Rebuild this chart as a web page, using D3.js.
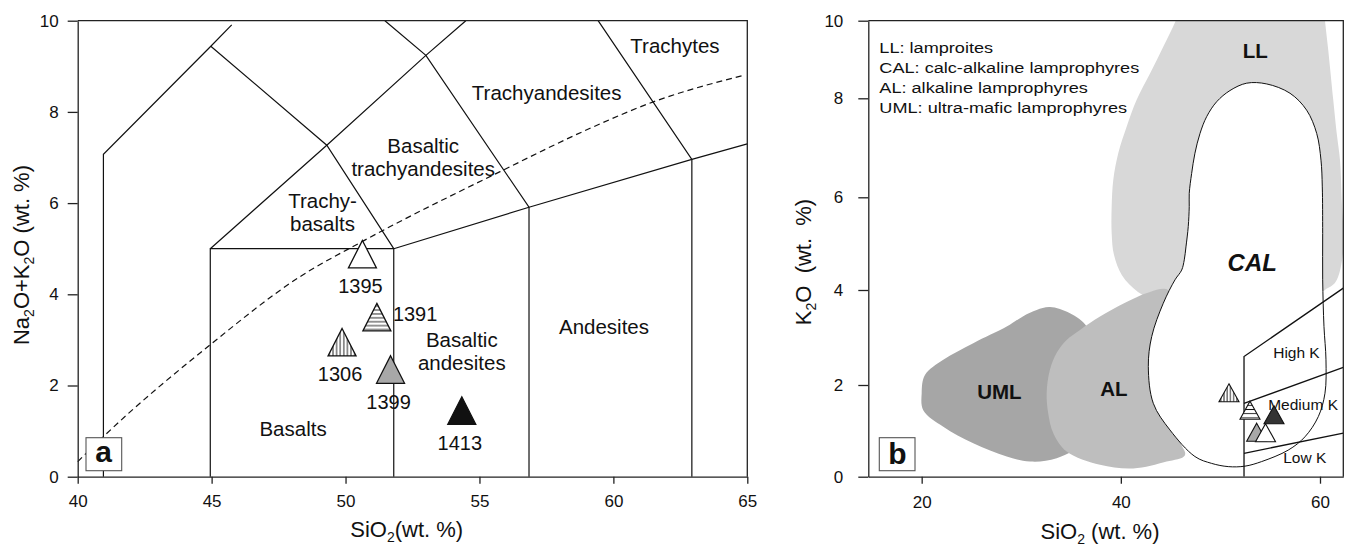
<!DOCTYPE html>
<html>
<head>
<meta charset="utf-8">
<script src="https://cdn.jsdelivr.net/npm/d3@7"></script>
<style>
  body { margin: 0; background: #fff; }
  svg { display: block; font-family: "Liberation Sans", Arial, Helvetica, sans-serif; }
  text { fill: #111; }
</style>
</head>
<body>
<svg id="fig" width="1347" height="547"></svg>
<script>
// ---------- Panel a: total alkali vs silica ----------
const tasSampleIds = ["1395", "1391", "1306", "1399", "1413"];
const tasSiO2      = [50.63, 51.17, 49.87, 51.68, 54.34];
const tasAlkali    = [4.88, 3.50, 2.95, 2.35, 1.45];
const tasLabelSide = ["below", "right", "below", "below", "below"];
const sampleFill   = { "1395": "open", "1391": "hlines", "1306": "vlines", "1399": "gray", "1413": "black" };

// field boundaries, [SiO2, Na2O+K2O]
const tasBoundaries = [
  [[40.96, 0], [40.96, 7.07], [44.97, 9.44], [45.75, 9.91]],
  [[44.95, 0], [44.95, 5.0], [51.8, 5.0], [51.8, 0]],
  [[44.97, 9.44], [49.3, 7.27], [51.8, 5.0]],
  [[44.95, 5.0], [49.3, 7.27], [53.0, 9.24], [54.49, 10]],
  [[51.47, 10], [53.0, 9.24], [56.85, 5.91], [56.85, 0]],
  [[51.8, 5.0], [56.85, 5.91], [62.93, 6.96], [65, 7.3]],
  [[62.93, 0], [62.93, 6.96], [59.43, 10]]
];
// alkaline / subalkaline divide
const alkalineDivide = [[40.0, 0.33], [40.96, 0.88], [44.94, 2.89], [48.31, 4.39], [50.6, 5.15],
                        [55.77, 6.69], [59.13, 7.64], [61.49, 8.22], [64.92, 8.81]];
const tasFieldNames = [
  { lines: ["Trachytes"], x: 62.3, y: 9.3 },
  { lines: ["Trachyandesites"], x: 57.51, y: 8.26 },
  { lines: ["Basaltic", "trachyandesites"], x: 52.9, y: 7.09 },
  { lines: ["Trachy-", "basalts"], x: 49.14, y: 5.89 },
  { lines: ["Basaltic", "andesites"], x: 54.34, y: 2.84 },
  { lines: ["Andesites"], x: 59.65, y: 3.13 },
  { lines: ["Basalts"], x: 48.04, y: 0.89 }
];
const tasXTicks = [40, 45, 50, 55, 60, 65];
const tasYTicks = [0, 2, 4, 6, 8, 10];

// ---------- Panel b: K2O vs SiO2 (lamprophyre fields) ----------
const lampSampleIds = ["1306", "1391", "1399", "1395", "1413"];
const lampSiO2      = [50.86, 52.97, 53.64, 54.53, 55.38];
const lampK2O       = [1.83, 1.45, 0.97, 0.96, 1.35];

const fieldUML = [[20.0, 1.82], [20.33, 2.21], [22.17, 2.53], [25.18, 2.88], [28.54, 3.23], [30.2, 3.45],
  [31.55, 3.58], [32.88, 3.64], [34.89, 3.51], [36.57, 3.23], [37.4, 2.53], [37.1, 1.24], [36.57, 0.8],
  [33.56, 0.4], [30.88, 0.33], [28.54, 0.44], [25.18, 0.73], [22.17, 1.09], [20.16, 1.45]];
const fieldAL = [[32.55, 1.82], [32.88, 2.32], [33.59, 2.69], [34.56, 2.95], [35.9, 3.16], [37.91, 3.44],
  [40.42, 3.73], [42.93, 3.96], [44.73, 4.0], [45.94, 3.37], [45.94, 0.8], [46.44, 0.47], [44.6, 0.33],
  [41.25, 0.18], [37.91, 0.26], [34.56, 0.55], [33.22, 0.95], [32.71, 1.38]];
const fieldLL = [[46.2, 10.5], [45.51, 10.0], [44.26, 9.33], [42.93, 8.64], [41.59, 7.97], [40.59, 7.43],
  [39.74, 6.89], [39.24, 6.35], [39.08, 5.8], [39.08, 5.22], [39.31, 4.76], [40.11, 4.32], [41.72, 3.96],
  [43.73, 3.75], [45.44, 3.68], [58.0, 3.68], [60.49, 4.0], [61.56, 4.17], [62.34, 4.86], [62.18, 5.93],
  [62.01, 6.75], [61.68, 7.29], [61.33, 7.97], [60.83, 9.24], [60.5, 10.0], [60.3, 10.5]];
const fieldCAL = [[52.64, 8.39], [54.65, 8.37], [56.99, 8.13], [58.66, 7.76], [59.67, 7.29], [60.1, 6.75],
  [60.23, 6.21], [60.27, 5.22], [60.27, 4.22], [60.4, 3.23], [60.6, 2.53], [60.5, 1.82], [59.83, 1.31],
  [58.49, 0.87], [56.81, 0.58], [54.14, 0.33], [52.47, 0.23], [50.79, 0.22], [49.12, 0.29], [47.44, 0.44],
  [44.93, 1.02], [43.26, 1.6], [42.76, 2.39], [43.1, 3.02], [44.26, 3.72], [45.44, 4.22], [46.11, 4.43],
  [46.37, 4.65], [46.54, 4.93], [46.77, 5.37], [46.87, 5.8], [46.87, 6.08], [47.11, 6.48], [47.44, 6.89],
  [47.95, 7.29], [48.62, 7.63], [49.62, 7.93], [50.96, 8.2]];
const potassiumSeries = [
  [[52.37, 0], [52.37, 2.6], [62.34, 4.04]],
  [[52.37, 1.6], [62.34, 2.37]],
  [[52.37, 0.51], [62.34, 0.95]]
];
const lampFieldNames = [
  { text: "LL", x: 53.5, y: 10 - 0.95, weight: "bold", italic: false },
  { text: "CAL", x: 53.2, y: 4.4, weight: "bold", italic: true },
  { text: "UML", x: 27.8, y: 1.7, weight: "bold", italic: false },
  { text: "AL", x: 39.3, y: 1.75, weight: "bold", italic: false }
];
const seriesNames = [
  { text: "High K", x: 55.3, y: 2.56 },
  { text: "Medium K", x: 54.8, y: 1.45 },
  { text: "Low K", x: 56.3, y: 0.29 }
];
const legendLines = ["LL: lamproites", "CAL: calc-alkaline lamprophyres",
                     "AL: alkaline lamprophyres", "UML: ultra-mafic lamprophyres"];
const lampXTicks = [20, 40, 60];
const lampYTicks = [0, 2, 4, 6, 8, 10];

// ---------- scales ----------
const xa = d3.scaleLinear([40, 65], [77.7, 747.3]);
const ya = d3.scaleLinear([0, 10], [476.7, 20.7]);
const xb = d3.scaleLinear([14.64, 62.34], [868.3, 1343.3]);
const yb = d3.scaleLinear([0, 2, 4, 6, 8, 10], [476.7, 385, 290, 197.3, 98.3, 20.7]);

const svg = d3.select("#fig");
const defs = svg.append("defs");

// hatch fills
function hatch(id, vertical, gap) {
  const p = defs.append("pattern").attr("id", id).attr("patternUnits", "userSpaceOnUse")
    .attr("width", gap).attr("height", gap);
  p.append("rect").attr("width", gap).attr("height", gap).attr("fill", "#fff");
  p.append("path").attr("d", vertical ? `M${gap / 2},0V${gap}` : `M0,${gap / 2}H${gap}`)
    .attr("stroke", "#111").attr("stroke-width", 0.9);
}
hatch("vlinesA", true, 3.6);
hatch("hlinesA", false, 3.9);
hatch("vlinesB", true, 3.2);
hatch("hlinesB", false, 4.2);

defs.append("clipPath").attr("id", "clipB").append("rect")
  .attr("x", xb.range()[0]).attr("y", yb(10))
  .attr("width", xb.range()[1] - xb.range()[0]).attr("height", yb(0) - yb(10));

function fillFor(kind, panel, dark) {
  if (kind === "open") return "#fff";
  if (kind === "hlines") return `url(#hlines${panel})`;
  if (kind === "vlines") return `url(#vlines${panel})`;
  if (kind === "gray") return "#a8a8a8";
  return dark;
}
function triangle(cx, cy, w, h) {
  return `M${cx},${cy - h / 2}L${cx + w / 2},${cy + h / 2}L${cx - w / 2},${cy + h / 2}Z`;
}

function styleAxis(g) {
  g.select(".domain").attr("stroke", "#222").attr("stroke-width", 1.3);
  g.selectAll(".tick line").attr("stroke", "#222").attr("stroke-width", 1.3);
  g.selectAll(".tick text").attr("font-size", 17).attr("fill", "#111");
}

function frame(x, y) {
  svg.append("path")
    .attr("d", `M${x.range()[0]},${y.range()[y.range().length - 1]}H${x.range()[1]}V${y.range()[0]}`)
    .attr("fill", "none").attr("stroke", "#222").attr("stroke-width", 1.3);
}

// ================= Panel a =================
const ga = svg.append("g");
const lineA = d3.line().x(d => xa(d[0])).y(d => ya(d[1]));

ga.selectAll("path.boundary").data(tasBoundaries).join("path")
  .attr("class", "boundary").attr("d", lineA)
  .attr("fill", "none").attr("stroke", "#111").attr("stroke-width", 1.2);

ga.append("path").datum(alkalineDivide)
  .attr("d", d3.line().x(d => xa(d[0])).y(d => ya(d[1])).curve(d3.curveMonotoneX))
  .attr("fill", "none").attr("stroke", "#111").attr("stroke-width", 1.2)
  .attr("stroke-dasharray", "6,4");

tasFieldNames.forEach(f => {
  const t = ga.append("text").attr("x", xa(f.x)).attr("y", ya(f.y))
    .attr("text-anchor", "middle").attr("font-size", 20.5);
  f.lines.forEach((s, i) => t.append("tspan").attr("x", xa(f.x)).attr("dy", i ? 22.5 : 0).text(s));
});

svg.append("g").attr("transform", `translate(${xa.range()[0]},0)`)
  .call(d3.axisLeft(ya).tickValues(tasYTicks).tickSize(10).tickPadding(9).tickSizeOuter(0))
  .call(styleAxis);
svg.append("g").attr("transform", `translate(0,${ya(0)})`)
  .call(d3.axisBottom(xa).tickValues(tasXTicks).tickSize(7).tickPadding(11).tickSizeOuter(0))
  .call(styleAxis);
frame(xa, ya);

// panel tag
ga.append("rect").attr("x", xa.range()[0] + 8.3).attr("y", ya(0) - 39).attr("width", 35.7).attr("height", 33)
  .attr("fill", "#fff").attr("stroke", "#555").attr("stroke-width", 1.1);
ga.append("text").attr("x", xa.range()[0] + 26).attr("y", ya(0) - 15).attr("text-anchor", "middle")
  .attr("font-size", 30).attr("font-weight", "bold").text("a");

// samples
const tasData = tasSampleIds.map((id, i) => ({ id, x: tasSiO2[i], y: tasAlkali[i], side: tasLabelSide[i] }));
ga.selectAll("path.sample").data(tasData).join("path")
  .attr("class", "sample")
  .attr("d", d => triangle(xa(d.x), ya(d.y), 28, 27.5))
  .attr("fill", d => fillFor(sampleFill[d.id], "A", "#111"))
  .attr("stroke", "#111").attr("stroke-width", 1.3).attr("stroke-linejoin", "miter");
ga.selectAll("text.sample").data(tasData).join("text")
  .attr("class", "sample").attr("font-size", 20)
  .attr("x", d => d.side === "right" ? xa(d.x) + 16 : xa(d.x) - 2)
  .attr("y", d => d.side === "right" ? ya(d.y) + 4 : ya(d.y) + 39)
  .attr("text-anchor", d => d.side === "right" ? "start" : "middle")
  .text(d => d.id);

// axis titles
const xtA = svg.append("text").attr("x", 406.7).attr("y", 537).attr("text-anchor", "middle").attr("font-size", 22);
xtA.append("tspan").text("SiO");
xtA.append("tspan").attr("font-size", 14).attr("dy", 5).text("2");
xtA.append("tspan").attr("dy", -5).text("(wt. %)");

const ytA = svg.append("text").attr("transform", "translate(29,255) rotate(-90)")
  .attr("text-anchor", "middle").attr("font-size", 22);
ytA.append("tspan").text("Na");
ytA.append("tspan").attr("font-size", 14).attr("dy", 5).text("2");
ytA.append("tspan").attr("dy", -5).text("O+K");
ytA.append("tspan").attr("font-size", 14).attr("dy", 5).text("2");
ytA.append("tspan").attr("dy", -5).text("O (wt. %)");

// ================= Panel b =================
const gb = svg.append("g").attr("clip-path", "url(#clipB)");
const smooth = d3.line().x(d => xb(d[0])).y(d => yb(d[1])).curve(d3.curveCatmullRomClosed.alpha(0.5));
gb.append("path").datum(fieldUML).attr("d", smooth).attr("fill", "#a6a6a6");
gb.append("path").datum(fieldLL).attr("d", smooth).attr("fill", "#d8d8d8");
gb.append("path").datum(fieldAL).attr("d", smooth).attr("fill", "#bebebe");
gb.append("path").datum(fieldCAL).attr("d", smooth).attr("fill", "#fff")
  .attr("stroke", "#111").attr("stroke-width", 1);

const lineB = d3.line().x(d => xb(d[0])).y(d => yb(d[1]));
gb.selectAll("path.kline").data(potassiumSeries).join("path")
  .attr("class", "kline").attr("d", lineB)
  .attr("fill", "none").attr("stroke", "#111").attr("stroke-width", 1.3);

lampFieldNames.forEach(f => {
  svg.append("text").attr("x", xb(f.x)).attr("y", yb(f.y)).attr("text-anchor", "middle")
    .attr("font-size", f.italic ? 24 : 20.5).attr("font-weight", f.weight)
    .attr("font-style", f.italic ? "italic" : "normal").text(f.text);
});
seriesNames.forEach(f => {
  svg.append("text").attr("x", xb(f.x)).attr("y", yb(f.y)).attr("font-size", 15.5).text(f.text);
});

const leg = svg.append("g").attr("transform", `translate(${xb.range()[0] + 11},0) scale(1.17,1)`);
legendLines.forEach((s, i) => {
  leg.append("text").attr("x", 0).attr("y", 53.3 + i * 19.8).attr("font-size", 15.5).text(s);
});

svg.append("g").attr("transform", `translate(${xb.range()[0]},0)`)
  .call(d3.axisLeft(yb).tickValues(lampYTicks).tickSize(10).tickPadding(15).tickSizeOuter(0))
  .call(styleAxis);
svg.append("g").attr("transform", `translate(0,${yb(0)})`)
  .call(d3.axisBottom(xb).tickValues(lampXTicks).tickSize(7).tickPadding(12).tickSizeOuter(0))
  .call(styleAxis);
frame(xb, yb);

svg.append("rect").attr("x", xb.range()[0] + 11).attr("y", yb(0) - 39).attr("width", 35.7).attr("height", 33)
  .attr("fill", "#fff").attr("stroke", "#555").attr("stroke-width", 1.1);
svg.append("text").attr("x", xb.range()[0] + 29).attr("y", yb(0) - 13).attr("text-anchor", "middle")
  .attr("font-size", 30).attr("font-weight", "bold").text("b");

const lampData = lampSampleIds.map((id, i) => ({ id, x: lampSiO2[i], y: lampK2O[i] }));
svg.append("g").selectAll("path").data(lampData).join("path")
  .attr("d", d => triangle(xb(d.x), yb(d.y), 20, 18))
  .attr("fill", d => fillFor(sampleFill[d.id], "B", "#333"))
  .attr("stroke", "#111").attr("stroke-width", 1.1);

const xtB = svg.append("text").attr("x", 1100).attr("y", 539).attr("text-anchor", "middle").attr("font-size", 22);
xtB.append("tspan").text("SiO");
xtB.append("tspan").attr("font-size", 14).attr("dy", 5).text("2");
xtB.append("tspan").attr("dy", -5).text(" (wt. %)");

const ytB = svg.append("text").attr("transform", "translate(811,262) rotate(-90)")
  .attr("text-anchor", "middle").attr("font-size", 22).attr("xml:space", "preserve");
ytB.append("tspan").text("K");
ytB.append("tspan").attr("font-size", 14).attr("dy", 5).text("2");
ytB.append("tspan").attr("dy", -5).text("O  (wt.  %)");
</script>
</body>
</html>
